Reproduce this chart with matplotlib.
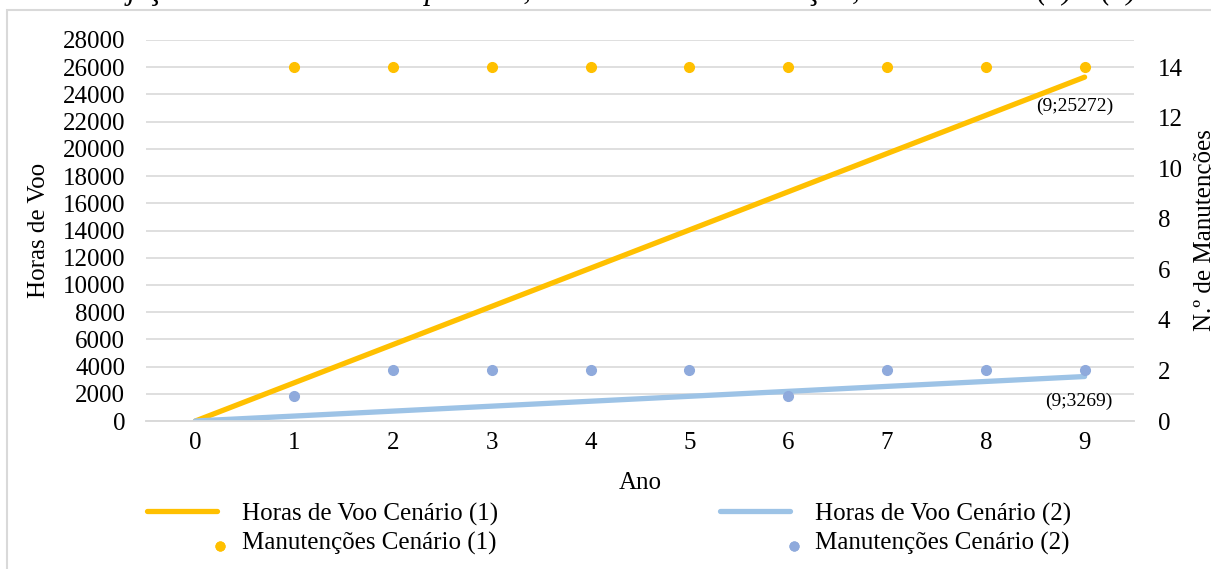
import matplotlib.pyplot as plt
from matplotlib.patches import Rectangle
from matplotlib.legend_handler import HandlerLine2D

plt.rcParams['font.family'] = ['Liberation Serif', 'DejaVu Serif']

anos = [0, 1, 2, 3, 4, 5, 6, 7, 8, 9]
horas_c1 = [0, 2808, 5616, 8424, 11232, 14040, 16848, 19656, 22464, 25272]
horas_c2 = [0, 363, 726, 1090, 1453, 1816, 2179, 2543, 2906, 3269]
anos_man = [1, 2, 3, 4, 5, 6, 7, 8, 9]
man_c1 = [14, 14, 14, 14, 14, 14, 14, 14, 14]
man_c2 = [1, 2, 2, 2, 2, 1, 2, 2, 2]

amarelo = '#FFC000'
azul_linha = '#9DC3E6'
azul_ponto = '#8FAADC'


# no Excel o ponto da legenda fica no fim da amostra, um pouco abaixo
class PontoDireita(HandlerLine2D):
    def __init__(self):
        super().__init__(numpoints=2)

    def get_xdata(self, legend, xdescent, ydescent, width, height, fontsize):
        x = -xdescent + 1.05 * width
        return [x, x], [x]

    def create_artists(self, legend, orig_handle, xdescent, ydescent,
                       width, height, fontsize, trans):
        arts = super().create_artists(legend, orig_handle, xdescent, ydescent,
                                      width, height, fontsize, trans)
        for a in arts:
            a.set_ydata([y - 0.3 * height for y in a.get_ydata()])
        return arts


fig = plt.figure(figsize=(12.11, 5.69), dpi=100)
# moldura cinzenta do grafico
fig.patches.append(Rectangle((7 / 1211, -0.05), 1.2, 1 - 10 / 569 + 0.05,
                             transform=fig.transFigure, fill=False,
                             edgecolor='#D9D9D9', linewidth=1.5))
# titulo cortado no topo
fig.text(1137 / 1211, 1 + 1 / 569,
         'Projeção das Horas de Voo por Ano, e n.º total de Manutenção, dos Cenários (1) e (2)',
         ha='right', va='baseline', fontsize=22, style='italic')

ax = fig.add_axes([146 / 1211, 1 - 421 / 569, (1134 - 146) / 1211, (421 - 40) / 569])
ax2 = ax.twinx()

l1, = ax.plot(anos, horas_c1, color=amarelo, lw=3.8, solid_capstyle='round',
              label='Horas de Voo Cenário (1)', zorder=3)
l2, = ax.plot(anos, horas_c2, color=azul_linha, lw=3.8, solid_capstyle='round',
              label='Horas de Voo Cenário (2)', zorder=3)
p1, = ax2.plot(anos_man, man_c1, 'o', color=amarelo, ms=7, label='Manutenções Cenário (1)')
p2, = ax2.plot(anos_man, man_c2, 'o', color=azul_ponto, ms=7, label='Manutenções Cenário (2)')

ax.set_xlim(-0.5, 9.5)
ax.set_ylim(0, 28000)
ax.set_yticks(range(0, 28001, 2000))
ax2.set_ylim(0, 28000 * 14 / 26000)
ax2.set_yticks(range(0, 15, 2))
ax.set_xticks(anos)

ax.grid(axis='y', color='#D9D9D9', lw=1.2)
ax.set_axisbelow(True)
for a in (ax, ax2):
    for s in ('top', 'left', 'right'):
        a.spines[s].set_visible(False)
    a.spines['bottom'].set_color('#D9D9D9')
    a.spines['bottom'].set_linewidth(1.2)
    a.tick_params(length=0, labelsize=18)
ax.tick_params(axis='x', pad=8)
ax.tick_params(axis='y', pad=15)
ax2.tick_params(axis='y', pad=17)

ax.set_xlabel('Ano', fontsize=18, labelpad=13)
ax.set_ylabel('Horas de Voo', fontsize=18, labelpad=9)
ax2.set_ylabel('N.º de Manutenções', fontsize=18, labelpad=8)

ax.annotate('(9;25272)', (anos[-1], horas_c1[-1]), xytext=(-7, -21),
            textcoords='offset points', ha='center', va='center', fontsize=14)
ax.annotate('(9;3269)', (anos[-1], horas_c2[-1]), xytext=(-4, -18),
            textcoords='offset points', ha='center', va='center', fontsize=14)

fig.legend(handles=[l1, p1, l2, p2], loc='upper left', ncol=2,
           bbox_to_anchor=(134 / 1211, 1 - 490 / 569), frameon=False,
           fontsize=18, handlelength=2.8, handletextpad=1.0,
           columnspacing=8.9, labelspacing=0.25, markerscale=0.9,
           borderpad=0, numpoints=1,
           handler_map={p1: PontoDireita(), p2: PontoDireita()})

fig.savefig('out.png', dpi=100)
